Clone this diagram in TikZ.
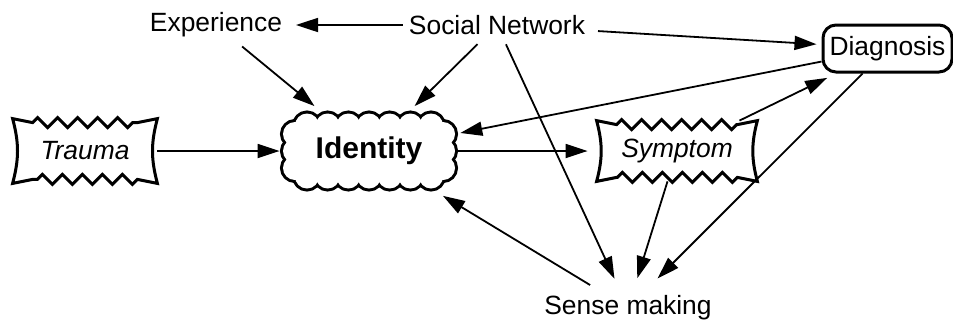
\documentclass[tikz,border=0pt]{standalone}
\usepackage{fontspec}
\setmainfont{Liberation Sans}
\usetikzlibrary{arrows.meta, positioning, backgrounds, decorations.pathmorphing}

% zigzag-edged frame round a node
\newcommand{\wavyframe}[1]{%
  \draw[frame] (#1.north west)
    -- ([xshift=10pt,yshift=-2pt]#1.north west)
    decorate {-- ([xshift=-10pt,yshift=-2pt]#1.north east)}
    -- (#1.north east) to[bend right=15] (#1.south east)
    -- ([xshift=-10pt,yshift=2pt]#1.south east)
    decorate {-- ([xshift=10pt,yshift=2pt]#1.south west)}
    -- (#1.south west) to[bend right=15] (#1.north west) -- cycle;}

\begin{document}
\begin{tikzpicture}[
  x=0.5pt, y=0.5pt,
  font=\fontsize{13.2}{15}\selectfont,
  lbl/.style={inner sep=3pt, outer sep=0pt},
  wavy/.style={inner sep=0pt, font=\fontsize{13.2}{15}\selectfont\itshape},
  frame/.style={line width=1.5pt, line join=miter,
                decoration={zigzag, segment length=10pt, amplitude=2.5pt}},
  roundbox/.style={draw, line width=1.5pt, rounded corners=6.5pt, inner sep=0pt,
                   minimum width=64.5pt, minimum height=23.5pt},
  puff/.style={line width=3pt},
  arr/.style={-{Triangle[length=11pt,width=7pt]}, line width=0.9pt}
]
\useasboundingbox (0,0) rectangle (953,323);

\node[lbl] (exp) at (216,298) {Experience};
\node[lbl] (soc) at (497,298) {Social Network};
\node[roundbox] (diag) at (887.5,274.5) {Diagnosis};
\node[wavy, minimum width=72pt, minimum height=32pt] (trauma) at (85,172) {Trauma};
\node[inner sep=0pt, minimum width=86pt, minimum height=37.5pt,
      font=\fontsize{15}{17}\selectfont\bfseries] (ident) at (369,172) {Identity};
\node[wavy, minimum width=80pt, minimum height=30pt] (symp) at (677,172) {Symptom};
\node[lbl] (sense) at (628,15) {Sense making};

% cloud behind the identity label
\begin{scope}[on background layer, shift={(ident.center)}]
  \foreach \i in {0,...,6}
    \draw[puff] (-62+20.667*\i,25.5) circle (12) (-62+20.667*\i,-25.5) circle (12);
  \foreach \j in {-17,0,17}
    \draw[puff] (-74,\j) circle (12) (74,\j) circle (12);
  \foreach \i in {0,...,6}
    \fill[white] (-62+20.667*\i,25.5) circle (12) (-62+20.667*\i,-25.5) circle (12);
  \foreach \j in {-17,0,17}
    \fill[white] (-74,\j) circle (12) (74,\j) circle (12);
  \fill[white] (-74,-25.5) rectangle (74,25.5);
\end{scope}

\wavyframe{trauma}
\wavyframe{symp}

\draw[arr, shorten >=4pt] (soc) -- (exp);
\draw[arr, shorten <=3.5pt, shorten >=2.5pt] (soc) -- (diag);
\draw[arr, shorten <=2.5pt, shorten >=5.5pt] (exp) -- (ident);
\draw[arr, shorten <=2.5pt, shorten >=5pt] (soc) -- (ident);
\draw[arr, shorten <=2pt, shorten >=6pt] (soc) -- (sense);
\draw[arr, shorten >=1.5pt] (trauma) -- (ident);
\draw[arr, shorten >=4.5pt] (ident) -- (symp);
\draw[arr, shorten >=2.5pt] (diag) -- (ident);
\draw[arr, shorten >=5pt] (symp) -- (diag);
\draw[arr, shorten >=8pt] (diag) -- (sense);
\draw[arr, shorten >=6pt] (symp) -- (sense);
\draw[arr, shorten <=4.5pt, shorten >=6.7pt] (sense) -- (ident);
\end{tikzpicture}
\end{document}
